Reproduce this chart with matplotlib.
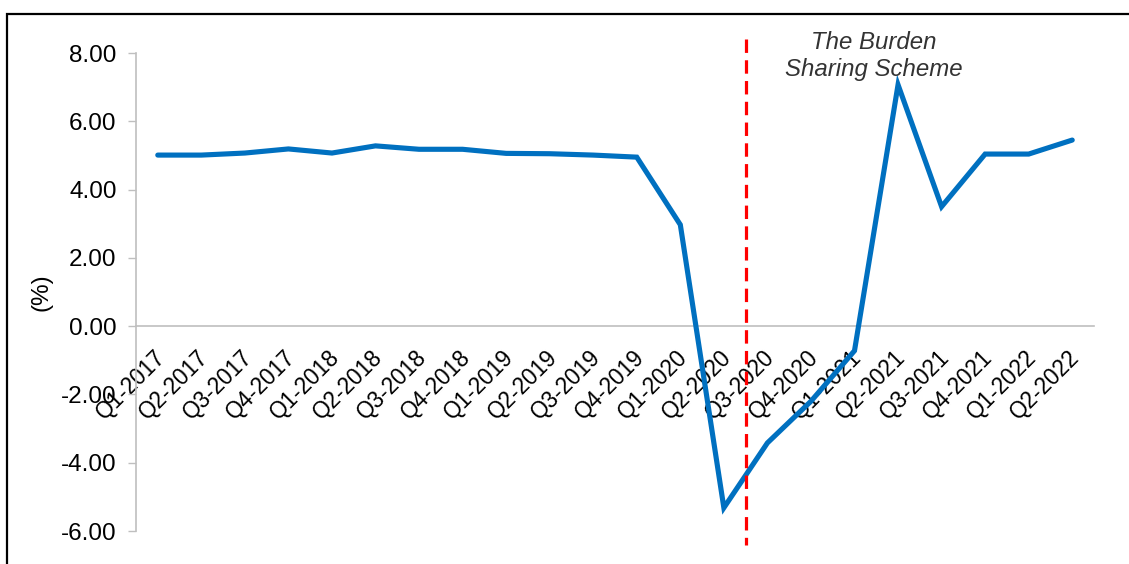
import matplotlib
matplotlib.use("Agg")
import matplotlib.pyplot as plt
import matplotlib.transforms as mtransforms
from matplotlib.patches import Rectangle
from matplotlib.ticker import FormatStrFormatter, FixedLocator

plt.rcParams['font.family'] = ['Liberation Sans', 'DejaVu Sans']
plt.rcParams['axes.unicode_minus'] = False

quarters = ["Q1-2017", "Q2-2017", "Q3-2017", "Q4-2017", "Q1-2018", "Q2-2018",
            "Q3-2018", "Q4-2018", "Q1-2019", "Q2-2019", "Q3-2019", "Q4-2019",
            "Q1-2020", "Q2-2020", "Q3-2020", "Q4-2020", "Q1-2021", "Q2-2021",
            "Q3-2021", "Q4-2021", "Q1-2022", "Q2-2022"]
values = [5.01, 5.01, 5.07, 5.19, 5.07, 5.28, 5.18, 5.18, 5.06, 5.05, 5.01, 4.95,
          2.97, -5.32, -3.42, -2.20, -0.72, 7.07, 3.50, 5.04, 5.04, 5.45]
event_position = 13.5
event_label = "The Burden\nSharing Scheme"
yticks = [-6, -4, -2, 0, 2, 4, 6, 8]

W, H = 1129, 564
fig = plt.figure(figsize=(W / 100, H / 100), dpi=100)
ax = fig.add_axes([136 / W, 1 - 531 / H, (1094 - 136) / W, (531 - 53) / H])

x = list(range(len(quarters)))
ax.plot(x, values, color="#0070C0", lw=3.7, solid_capstyle="round", solid_joinstyle="miter", zorder=3)

ax.set_xlim(-0.5, len(quarters) - 0.5)
ax.set_ylim(-6, 8)
ax.yaxis.set_major_locator(FixedLocator(yticks))
ax.yaxis.set_major_formatter(FormatStrFormatter("%.2f"))

for s in ["top", "right"]:
    ax.spines[s].set_visible(False)
ax.spines["bottom"].set_position(("data", 0))
ax.spines["bottom"].set_color("#BFBFBF")
ax.spines["left"].set_color("#BFBFBF")
ax.spines["bottom"].set_linewidth(1.2)
ax.spines["left"].set_linewidth(1.2)

ax.tick_params(axis="y", length=6, width=1.0, color="#BFBFBF", labelsize=17.5, pad=8)
ax.set_xticks(x)
ax.set_xticklabels(quarters, rotation=45, ha="right", va="top", fontsize=16.3)
ax.tick_params(axis="x", length=0, pad=14)
offset = mtransforms.ScaledTranslation(12 / 100, 0, fig.dpi_scale_trans)
for lbl in ax.get_xticklabels():
    lbl.set_transform(lbl.get_transform() + offset)

ax.set_ylabel("(%)", fontsize=17.5)
ax.yaxis.set_label_coords((53 - 136) / (1094 - 136), 0.5)

ax.plot([event_position, event_position], [8.4, -6.4], color="#FF0000", lw=2.3,
        linestyle=(0, (4.2, 2.3)), clip_on=False, zorder=4)
ax.text(event_position + 2.95, 7.92, event_label, ha="center", va="center", style="italic",
        fontsize=17.3, color="#333333", linespacing=1.2)

fig.patches.append(Rectangle((7 / W, -0.1), 1.2, (H - 14) / H + 0.1, transform=fig.transFigure,
                             fill=False, edgecolor="black", lw=1.6, clip_on=False))

fig.savefig("out.png", dpi=100)
